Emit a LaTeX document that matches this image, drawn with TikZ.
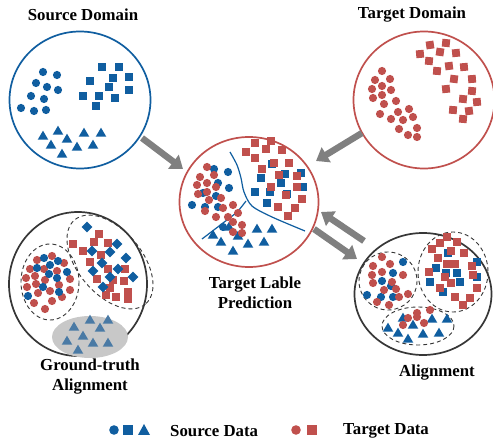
\documentclass[tikz,border=0pt]{standalone}
\usepackage{fontspec}
\setmainfont{Liberation Serif}
\usetikzlibrary{arrows.meta,shapes.geometric}
\definecolor{srcblue}{RGB}{16,94,160}
\definecolor{tgtred}{RGB}{192,80,77}
\definecolor{ringgray}{RGB}{55,55,55}
\definecolor{arrgray}{RGB}{128,128,128}
\definecolor{shadegray}{RGB}{200,200,200}
\definecolor{tribl}{RGB}{74,122,165}
\begin{document}
\begin{tikzpicture}[x=1pt,y=-1pt,
  ring/.style={ellipse, line width=1.7pt, inner sep=0pt, fill=white},
  gbar/.style={arrgray, line width=6.5pt, -{Triangle[width=17pt,length=12pt]}},
  lbl/.style={font=\fontsize{16.8}{20}\selectfont\bfseries, align=center, inner sep=0pt},
  dashring/.style={ringgray, line width=0.9pt, dash pattern=on 4pt off 3pt},
  sepline/.style={srcblue, line width=1.2pt}]
\useasboundingbox (0,0) rectangle (493,443);

% ---------- big circles ----------
\node[ring, draw=srcblue, minimum width=141pt, minimum height=137pt] (srcdom) at (80,100) {};
\node[ring, draw=tgtred, minimum width=141pt, minimum height=137pt] (tgtdom) at (424,100) {};
\node[ring, draw=tgtred, minimum width=139pt, minimum height=130pt] (pred) at (249,202) {};
\node[ring, draw=ringgray, minimum width=138pt, minimum height=144pt] (gt) at (78,284) {};
\node[ring, draw=ringgray, minimum width=137pt, minimum height=122pt] (align) at (423,294) {};

% ---------- labels ----------
\node[lbl] (tsrc) at (83,15) {Source Domain};
\node[lbl] (ttgt) at (412,15) {Target Domain};
\node[lbl] (tpred) at (255,293) {Target Lable\\Prediction};
\node[lbl] (tgt) at (90,377) {Ground-truth\\Alignment};
\node[lbl] (talign) at (437,373) {Alignment};

% ---------- arrows ----------
\coordinate (a1s) at (142,138); \coordinate (a1e) at (183,169);
\coordinate (a2s) at (362,133); \coordinate (a2e) at (316,161);
\coordinate (a3s) at (364,241); \coordinate (a3e) at (321,212);
\coordinate (a4s) at (314,229); \coordinate (a4e) at (357,259);
\draw[gbar] (a1s) -- (a1e);
\draw[gbar] (a2s) -- (a2e);
\draw[gbar] (a3s) -- (a3e);
\draw[gbar] (a4s) -- (a4e);

% ---------- source domain ----------
\foreach \p in {(43,72),(57,75),(36,83),(47,87),(58,90),(31,96),(44,99),(21,108),(34,111),(46,110)}
  \fill[srcblue] \p circle (4.1pt);
\foreach \p in {(102,67),(119,67),(90,81),(113,78),(129,77),(109,87),(129,90),(83,96),(99,96),(115,98),(96,106)}
  \fill[srcblue,shift={\p}] (-3.8,-3.8) rectangle (3.8,3.8);
\foreach \p in {(58,131),(43,136),(67,139),(84,133),(101,133),(51,145),(77,147),(93,145),(62,154)}
  \fill[srcblue,shift={\p}] (-5.3,3.7) -- (5.3,3.7) -- (0,-5.3) -- cycle;

% ---------- target domain ----------
\foreach \p in {(382,71),(375,80),(390,79),(382,86),(372,89),(391,90),(373,98),(382,95),(396,101),(384,104),(380,114),(398,112),(409,109),(391,119),(403,120),(413,117),(399,129),(417,128),(408,135),(417,137)}
  \fill[tgtred] \p circle (4.1pt);
\foreach \p/\r in {(430,45)/8,(446,43)/-6,(420,54)/5,(440,52)/-8,(456,53)/6,(429,61)/-5,(449,66)/7,(437,71)/-4,(464,67)/5,(454,79)/-7,(472,79)/4,(472,91)/-5,(446,89)/6,(463,99)/-6,(477,102)/5,(453,110)/-4,(469,111)/7,(463,119)/-5}
  \fill[tgtred,shift={\p},rotate=\r] (-3.9,-3.9) rectangle (3.9,3.9);

% ---------- prediction ----------
\draw[sepline] plot[smooth] coordinates {(230,152) (237,165) (241,178) (244,192) (252,206) (272,217) (305,231)};
\draw[sepline] plot[smooth] coordinates {(202,239) (223,223) (237,212) (246,201)};
\foreach \p in {(272,164),(285,174),(301,173),(261,178),(281,183),(303,187),(255,192),(270,192),(287,194),(267,203)}
  \fill[srcblue,shift={\p}] (-3.8,-3.8) rectangle (3.8,3.8);
\foreach \p in {(255,143),(271,141),(246,152),(266,149),(282,150),(255,158),(274,163),(289,163),(262,169),(279,175),(297,176),(271,187),(286,195),(297,187),(302,199),(278,207),(295,208),(288,216)}
  \fill[tgtred,shift={\p}] (-3.8,-3.8) rectangle (3.8,3.8);
\foreach \p in {(214,169),(228,172),(218,183),(229,188),(203,193),(216,196),(192,205),(205,207),(218,207),(223,227)}
  \fill[srcblue] \p circle (4.1pt);
\foreach \p in {(257,229),(272,229),(213,235),(229,227),(238,236),(221,242),(248,244),(264,242),(233,251)}
  \fill[srcblue,shift={\p}] (-5.3,3.7) -- (5.3,3.7) -- (0,-5.3) -- cycle;
\foreach \p in {(207,167),(214,175),(200,177),(207,183),(197,185),(216,187),(207,192),(198,194),(221,198),(209,200),(205,211),(223,208),(233,205),(228,217),(216,217),(238,213),(233,222),(242,225),(233,232),(242,233)}
  \fill[tgtred] \p circle (4.1pt);

% ---------- ground truth alignment ----------
\fill[shadegray] (90,337) ellipse [x radius=38, y radius=21];
\foreach \p in {(74,327),(90,320),(108,320),(100,328),(83,336),(67,341),(93,343),(108,343),(78,350)}
  \fill[tribl,shift={\p}] (-5.3,3.7) -- (5.3,3.7) -- (0,-5.3) -- cycle;
\draw[dashring] (50,282) ellipse [x radius=29, y radius=38];
\draw[dashring, rotate around={-50:(110,262)}] (110,262) ellipse [x radius=55, y radius=32];
\foreach \p in {(37,260),(52,256),(30,269),(44,269),(64,263),(26,278),(35,276),(57,271),(27,287),(36,284),(45,280),(70,279),(50,291),(59,285),(70,290),(38,293),(62,297),(52,301),(34,303),(45,309)}
  \fill[tgtred] \p circle (4.1pt);
\foreach \p in {(44,258),(37,268),(50,265),(58,261),(49,274),(67,272),(57,278),(43,287),(59,292),(28,296)}
  \fill[srcblue] \p circle (4.1pt);
\foreach \p in {(99,234),(73,244),(94,242),(108,243),(83,251),(101,255),(90,262),(125,269),(108,269),(97,279),(113,280),(124,281),(110,288),(128,292),(106,295),(116,297),(128,299)}
  \fill[tgtred,shift={\p}] (-3.8,-3.8) rectangle (3.8,3.8);
\foreach \p in {(87,227),(117,244),(92,251),(110,252),(126,258),(102,263),(118,269),(93,271),(110,277),(133,277),(103,287)}
  \fill[srcblue,shift={\p}] (0,-5.3) -- (5.3,0) -- (0,5.3) -- (-5.3,0) -- cycle;

% ---------- alignment ----------
\draw[dashring] (388,281) ellipse [x radius=29, y radius=29];
\draw[dashring] (453,272) ellipse [x radius=35, y radius=40];
\draw[dashring] (418,326) ellipse [x radius=36, y radius=19];
\foreach \p in {(403,262),(393,273),(382,281),(391,286),(381,297),(393,297),(367,295)}
  \fill[srcblue] \p circle (4.1pt);
\foreach \p in {(382,257),(390,264),(373,266),(382,272),(403,275),(372,275),(373,283),(392,282),(384,290),(396,289),(408,294),(399,297),(389,305),(377,302)}
  \fill[tgtred] \p circle (4.1pt);
\foreach \p in {(448,253),(477,262),(436,268),(446,273),(457,273),(430,282),(460,282),(477,277),(443,292)}
  \fill[srcblue,shift={\p}] (-3.8,-3.8) rectangle (3.8,3.8);
\foreach \p in {(447,237),(440,243),(457,242),(432,249),(451,251),(464,253),(438,258),(447,264),(455,264),(472,266),(429,272),(473,275),(445,277),(451,283),(477,288),(440,288),(455,297),(470,298),(463,305)}
  \fill[tgtred,shift={\p}] (-3.8,-3.8) rectangle (3.8,3.8);
\foreach \p in {(403,318),(388,328),(413,325),(432,319),(447,319),(398,333),(423,334),(439,333),(408,339)}
  \fill[srcblue,shift={\p}] (-5.3,3.7) -- (5.3,3.7) -- (0,-5.3) -- cycle;
\foreach \p in {(417,313),(430,310),(408,318),(403,325),(424,323),(417,317)}
  \fill[tgtred] \p circle (4.1pt);

% ---------- legend ----------
\fill[srcblue] (114,430) circle (4.8pt);
\fill[srcblue,shift={(128,430)}] (-4.8,-4.8) rectangle (4.8,4.8);
\fill[srcblue,shift={(144,430)}] (-6,5) -- (6,5) -- (0,-6) -- cycle;
\node[lbl, anchor=west] (lsrc) at (170,431) {Source Data};
\fill[tgtred] (296,430) circle (4.8pt);
\fill[tgtred,shift={(312,430)}] (-4.8,-4.8) rectangle (4.8,4.8);
\node[lbl, anchor=west] (ltgt) at (343,431) {Target Data};
\end{tikzpicture}
\end{document}
